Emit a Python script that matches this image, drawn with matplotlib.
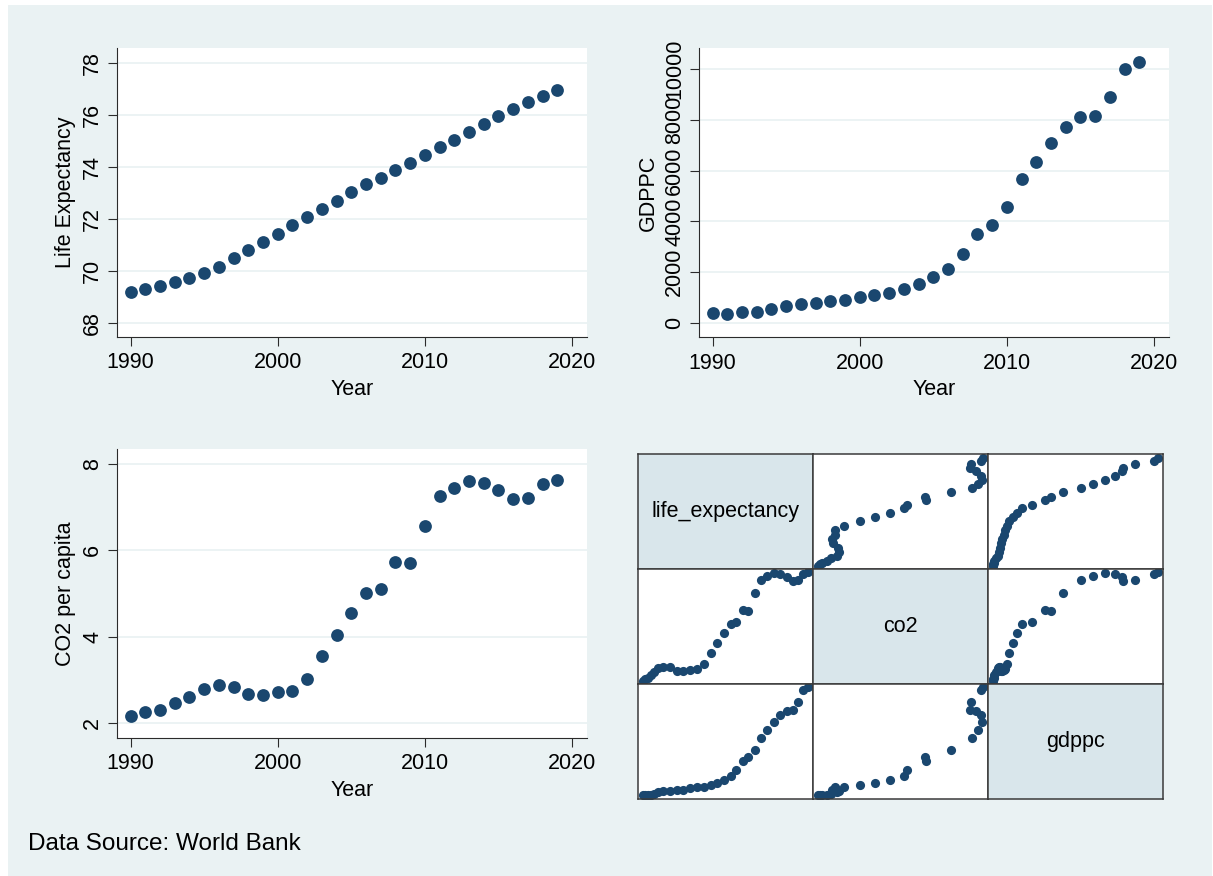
import matplotlib
matplotlib.use("Agg")
import matplotlib.pyplot as plt
from matplotlib.patches import Rectangle
import numpy as np

plt.rcParams['font.family'] = ['Liberation Sans', 'DejaVu Sans']

# ---- data (World Bank series, 1990-2019) ----
years = list(range(1990, 2020))
life_expectancy = [69.18, 69.29, 69.41, 69.56, 69.72, 69.90, 70.16, 70.49, 70.80, 71.10,
                   71.41, 71.75, 72.07, 72.38, 72.69, 73.01, 73.33, 73.58, 73.89, 74.16,
                   74.47, 74.75, 75.03, 75.35, 75.66, 75.97, 76.24, 76.50, 76.74, 76.96]
gdppc = [369, 360, 420, 415, 527, 659, 738, 790, 856, 896,
         1028, 1107, 1173, 1344, 1541, 1805, 2121, 2714, 3491, 3860,
         4559, 5665, 6350, 7101, 7708, 8116, 8169, 8906, 10013, 10290]
co2 = [2.17, 2.25, 2.31, 2.47, 2.60, 2.79, 2.88, 2.85, 2.68, 2.65,
       2.72, 2.75, 3.03, 3.56, 4.05, 4.55, 5.01, 5.11, 5.73, 5.70,
       6.56, 7.25, 7.44, 7.59, 7.56, 7.40, 7.18, 7.21, 7.54, 7.62]

year_ticks = [1990, 2000, 2010, 2020]
le_ticks = [68, 70, 72, 74, 76, 78]
gdp_ticks = [0, 2000, 4000, 6000, 8000, 10000]
co2_ticks = [2, 4, 6, 8]
matrix_vars = [("life_expectancy", life_expectancy), ("co2", co2), ("gdppc", gdppc)]

# ---- style ----
BG = '#EAF2F3'
DIAG = '#D9E6EB'
MARK = '#1A476F'
GRID = '#EAF2F3'
FS = 15.5

W, H = 1213, 876
fig = plt.figure(figsize=(W / 100, H / 100), dpi=100, facecolor='white')
fig.patches.append(Rectangle((7.7 / W, 0), (1211.7 - 7.7) / W, 1 - 5 / H,
                             transform=fig.transFigure, facecolor=BG,
                             edgecolor='none', zorder=-10))


def box(left, top, right, bottom):
    return fig.add_axes([left / W, 1 - bottom / H, (right - left) / W, (bottom - top) / H])


def time_panel(ax, values, yticks, ylim, ylabel):
    ax.set_facecolor('white')
    for s in ('top', 'right'):
        ax.spines[s].set_visible(False)
    for s in ('left', 'bottom'):
        ax.spines[s].set_color('#2b2b2b')
        ax.spines[s].set_linewidth(0.8)
    ax.set_xlim(1989.08, 2021.02)
    ax.set_ylim(*ylim)
    ax.set_xticks(year_ticks)
    ax.set_yticks(yticks)
    ax.set_yticklabels([str(t) for t in yticks], rotation=90, va='center', ha='right')
    ax.tick_params(axis='x', length=6.3, width=0.8, pad=4.8, labelsize=FS, color='#2b2b2b')
    ax.tick_params(axis='y', length=6.5, width=0.8, pad=3.4, labelsize=FS, color='#2b2b2b')
    ax.grid(axis='y', color=GRID, linewidth=1.3)
    ax.set_axisbelow(True)
    ax.plot(years, values, 'o', color=MARK, markersize=9.2, markeredgewidth=0, zorder=3)
    ax.set_xlabel('Year', fontsize=FS)
    ax.xaxis.label.set_va('baseline')
    ax.set_ylabel(ylabel, fontsize=FS)
    ax.yaxis.label.set_va('center')
    return ax


ax1 = box(117, 47.7, 587, 336.7)
time_panel(ax1, life_expectancy, le_ticks, (67.46, 78.58), 'Life Expectancy')
ax1.xaxis.set_label_coords(0.5, (336.7 - 395) / 289)
ax1.yaxis.set_label_coords((66 - 117) / 470, 0.5)

ax2 = box(699, 47.7, 1169, 337.3)
time_panel(ax2, gdppc, gdp_ticks, (-576, 10852), 'GDPPC')
ax2.xaxis.set_label_coords(0.5, (337.3 - 395) / 289.6)
ax2.yaxis.set_label_coords((648 - 699) / 470, 0.5)

ax3 = box(117, 449, 587, 737.7)
time_panel(ax3, co2, co2_ticks, (1.667, 8.34), 'CO2 per capita')
ax3.xaxis.set_label_coords(0.5, (737.7 - 796) / 288.7)
ax3.yaxis.set_label_coords((65 - 117) / 470, 0.5)

# ---- scatter matrix ----
mx0, mx1 = 637.7, 1163.3
my0, my1 = 454.3, 798.7
cw = (mx1 - mx0) / 3
ch = (my1 - my0) / 3


def lim(v, pad=0.03):
    lo, hi = min(v), max(v)
    r = hi - lo
    return lo - pad * r, hi + pad * r


for i, (yname, yv) in enumerate(matrix_vars):
    for j, (xname, xv) in enumerate(matrix_vars):
        ax = box(mx0 + j * cw, my0 + i * ch, mx0 + (j + 1) * cw, my0 + (i + 1) * ch)
        ax.set_xticks([])
        ax.set_yticks([])
        for s in ax.spines.values():
            s.set_color('#3a3a3a')
            s.set_linewidth(1.1)
        if i == j:
            ax.set_facecolor(DIAG)
            ax.text(0.5, 0.5, yname, transform=ax.transAxes, ha='center',
                    va='center', fontsize=FS)
        else:
            ax.set_facecolor('white')
            ax.plot(xv, yv, 'o', color=MARK, markersize=6.6, markeredgewidth=0)
            ax.set_xlim(*lim(xv))
            ax.set_ylim(*lim(yv))

fig.text(28 / W, 1 - 850 / H, 'Data Source: World Bank', fontsize=17.5,
         ha='left', va='baseline')

fig.savefig('out.png', dpi=100, facecolor='white')
